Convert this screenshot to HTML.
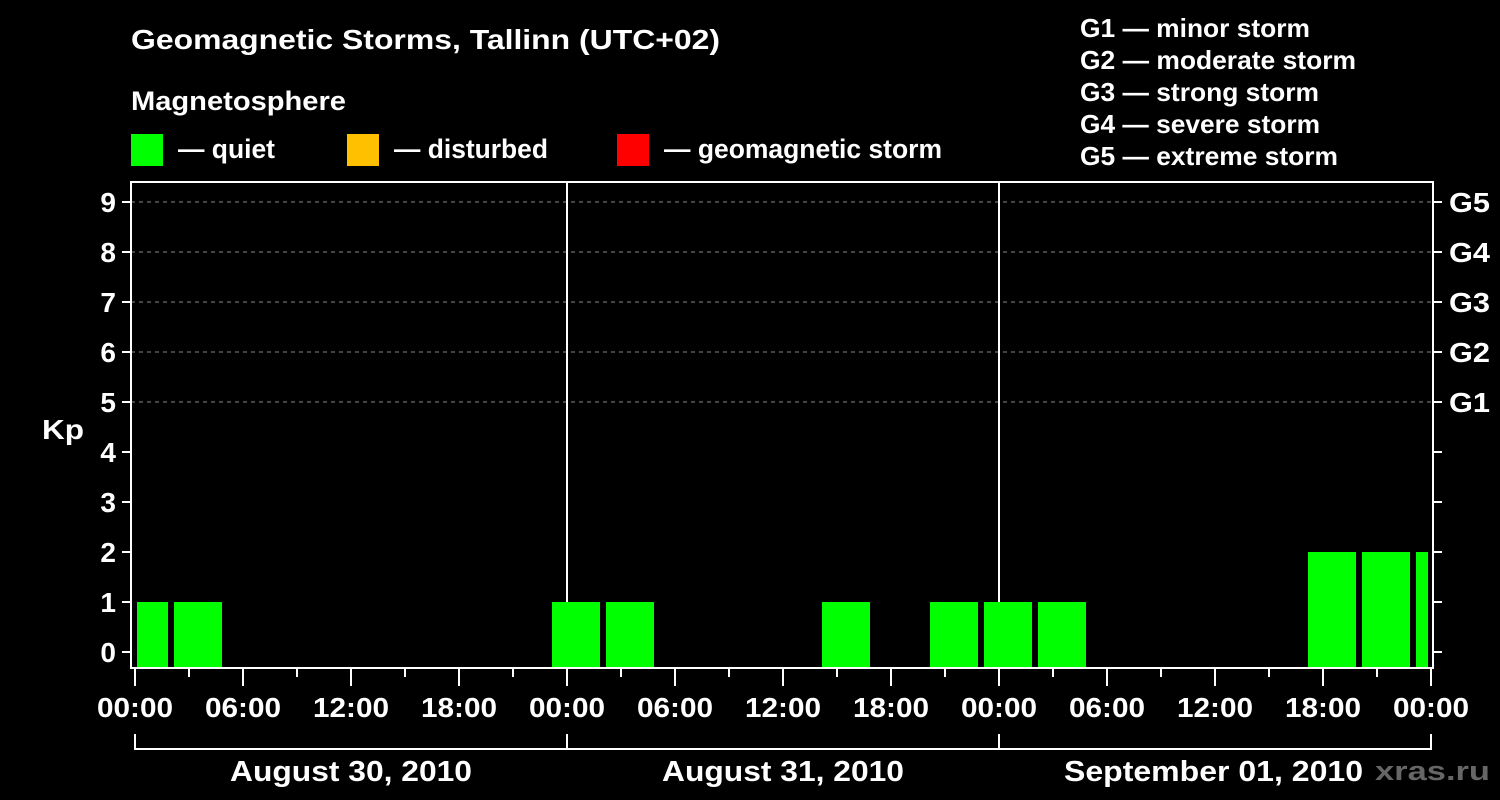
<!DOCTYPE html>
<html><head><meta charset="utf-8"><style>
html,body{margin:0;padding:0;background:#000;}
svg{display:block;font-family:"Liberation Sans",Arial,sans-serif;font-weight:bold;}
</style></head><body>
<svg id="chart" width="1500" height="800" viewBox="0 0 1500 800">
<rect width="1500" height="800" fill="#000"/>
<text x="131" y="49" fill="#fff" font-size="28" textLength="589" lengthAdjust="spacingAndGlyphs">Geomagnetic Storms, Tallinn (UTC+02)</text>
<text x="131" y="110" fill="#fff" font-size="27" textLength="215" lengthAdjust="spacingAndGlyphs">Magnetosphere</text>
<g><rect x="131" y="134" width="32" height="32" fill="#00ff00"/><text x="178" y="158" fill="#fff" font-size="27" textLength="97" lengthAdjust="spacingAndGlyphs">— quiet</text></g>
<g><rect x="347" y="134" width="32" height="32" fill="#ffc000"/><text x="394" y="158" fill="#fff" font-size="27" textLength="154" lengthAdjust="spacingAndGlyphs">— disturbed</text></g>
<g><rect x="617" y="134" width="32" height="32" fill="#ff0000"/><text x="664" y="158" fill="#fff" font-size="27" textLength="278" lengthAdjust="spacingAndGlyphs">— geomagnetic storm</text></g>
<g fill="#fff" font-size="26" lengthAdjust="spacingAndGlyphs">
<text x="1080" y="37" textLength="230" lengthAdjust="spacingAndGlyphs">G1 — minor storm</text>
<text x="1080" y="69" textLength="276" lengthAdjust="spacingAndGlyphs">G2 — moderate storm</text>
<text x="1080" y="101" textLength="239" lengthAdjust="spacingAndGlyphs">G3 — strong storm</text>
<text x="1080" y="133" textLength="240" lengthAdjust="spacingAndGlyphs">G4 — severe storm</text>
<text x="1080" y="165" textLength="258" lengthAdjust="spacingAndGlyphs">G5 — extreme storm</text>
</g>
<text x="42" y="439" fill="#fff" font-size="28" textLength="42" lengthAdjust="spacingAndGlyphs">Kp</text>
<text x="1375" y="780" fill="#666" font-size="27" textLength="115" lengthAdjust="spacingAndGlyphs">xras.ru</text>
<g id="plot"></g>
</svg>
<script>
// Kp per 3-hour bin; bin i starts at hour (-1 + 3*i) from Aug 30 00:00 local
const kpValues = [1,1,0,0,0,0,0,0,1,1,0,0,0,1,0,1,1,1,0,0,0,0,2,2,2];
const binStartOffset = -1;
const binHours = 3;
const yTicks = [0,1,2,3,4,5,6,7,8,9];
const gLabels = ["G1","G2","G3","G4","G5"];
const gLevels = [5,6,7,8,9];
const xTickLabels = ["00:00","06:00","12:00","18:00"];
const dayLabels = ["August 30, 2010","August 31, 2010","September 01, 2010"];

const NS="http://www.w3.org/2000/svg";
const plot=document.getElementById('plot');
const L=131,R=1433,T=182,B=668;
const x0=135,pxH=18,totalH=72;
const xs=h=>x0+Math.max(0,Math.min(totalH,h))*pxH;
const ys=v=>652-50*v;
function el(tag,attrs){const e=document.createElementNS(NS,tag);for(const k in attrs)e.setAttribute(k,attrs[k]);plot.appendChild(e);return e;}

yTicks.forEach(v=>{ if(v>=5){const g=el('line',{x1:L,x2:R,y1:ys(v),y2:ys(v),stroke:'#888','stroke-dasharray':'4,4'});

}});
for(let d=1;d<dayLabels.length;d++){const s=el('line',{x1:xs(d*24),x2:xs(d*24),y1:T,y2:B,stroke:'#fff','stroke-width':2});

}
kpValues.forEach((v,i)=>{
  if(v<=0)return;
  const h0=binStartOffset+i*binHours, h1=h0+binHours;
  const a=xs(h0)+(h0<0?2:3), b=xs(h1)-3;
  const c=v<5?'#00ff00':'#ff0000';
  const r=el('rect',{x:a,y:ys(v),width:b-a,height:B-ys(v),fill:c});
  
  
});
const f=el('rect',{x:L,y:T,width:R-L,height:B-T,fill:'none',stroke:'#fff','stroke-width':2});


yTicks.forEach(v=>{
  el('line',{x1:122,x2:L,y1:ys(v),y2:ys(v),stroke:'#fff','stroke-width':2});
  el('line',{x1:R,x2:1442,y1:ys(v),y2:ys(v),stroke:'#fff','stroke-width':2});
  const t=el('text',{x:116,y:ys(v)+10,fill:'#fff','font-size':28,'text-anchor':'end'});
  t.textContent=v;
  
  
});
gLabels.forEach((g,i)=>{
  const t=el('text',{x:1449,y:ys(gLevels[i])+10,fill:'#fff','font-size':28,textLength:41,lengthAdjust:'spacingAndGlyphs'});
  t.textContent=g;
  
  
});
for(let h=0;h<=totalH;h+=3){
  const major=h%6===0;
  el('line',{x1:xs(h),x2:xs(h),y1:B,y2:major?686:677,stroke:'#fff','stroke-width':2});
  if(major){const t=el('text',{x:xs(h)-38,y:717,fill:'#fff','font-size':28,textLength:76,lengthAdjust:'spacingAndGlyphs'});
    t.textContent=xTickLabels[(h/6)%4];
    
    }
}
el('line',{x1:xs(0),x2:xs(totalH),y1:749,y2:749,stroke:'#fff','stroke-width':2});
for(let d=0;d<=dayLabels.length;d++) el('line',{x1:xs(d*24),x2:xs(d*24),y1:734,y2:750,stroke:'#fff','stroke-width':2});
dayLabels.forEach((s,d)=>{
  const w=s.length>16?299:242;
  const cx=d===2?1213.5:xs(d*24+12);
  const t=el('text',{x:cx-w/2,y:781,fill:'#fff','font-size':29,textLength:w,lengthAdjust:'spacingAndGlyphs'});
  t.textContent=s;
  
  
});
</script>
</body></html>
